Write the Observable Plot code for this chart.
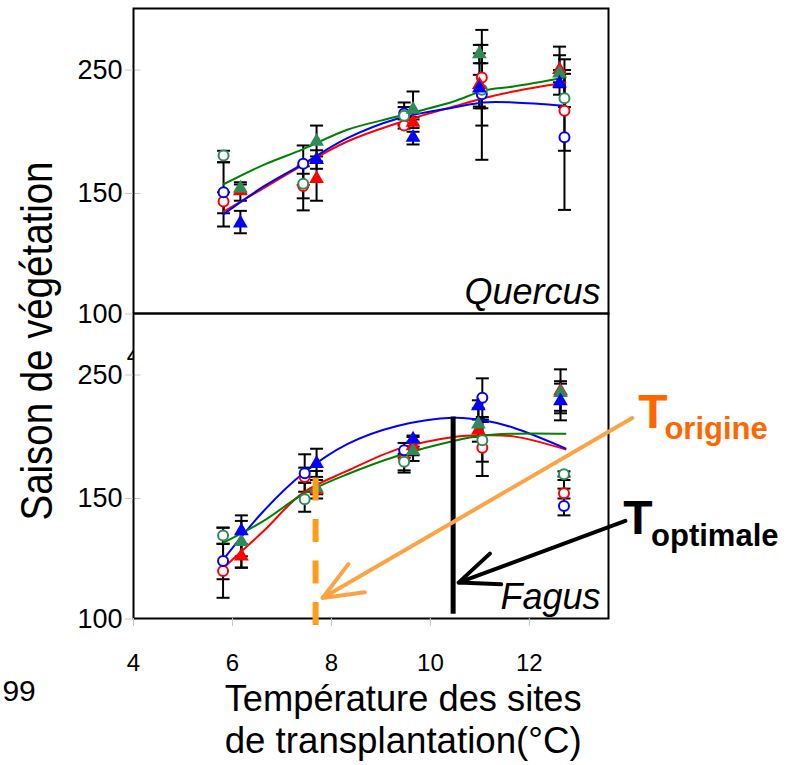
<!DOCTYPE html>
<html>
<head>
<meta charset="utf-8">
<script src="https://cdn.jsdelivr.net/npm/d3@7"></script>
<script src="https://cdn.jsdelivr.net/npm/@observablehq/plot@0.6"></script>
<style>
  html, body { margin: 0; padding: 0; background: white; }
</style>
</head>
<body>
<script>
// ---------- data ----------
const panels = ["Quercus", "Fagus"];
const xTicks = [4, 6, 8, 10, 12];
const yTicks = [100, 150, 250];

// site temperatures (circles / triangles slightly offset)
const qCircX = [5.82, 7.43, 9.47, 11.04, 12.71];
const qTriX  = [6.16, 7.70, 9.65, 10.99, 12.61];
const fCircX = [5.81, 7.46, 9.47, 11.05, 12.70];
const fTriX  = [6.18, 7.70, 9.65, 10.97, 12.63];

// [value, low, high]
const qRedCircle   = [[146.7,136.3,151],[156,148,166],[205,202.6,210],[243.9,219,270.4],[217,184.6,246.9]];
const qBlueCircle  = [[151.1,141.8,175.3],[174,157,188.9],[214.8,205,223.7],[230.4,177.3,282.6],[195.6,143.2,250]];
const qGreenCircle = [[180.8,175.3,184.6],[157.9,143,172],[213,206,220],[234,205,255.5],[227.2,220,258.7]];
const qRedTri      = [[152,147,157.3],[161.9,147,176],[207.5,203,212],[238,220.4,263.6],[250.2,240,269]];
const qBlueTri     = [[137.7,133.5,142.8],[177.3,170,185],[195.3,189.7,200],[235.3,219,246.1],[239.3,230,250]];
const qGreenTri    = [[154.3,150,159.1],[192.1,180,205],[218,210,232.6],[263.1,255.5,270.4],[247.4,236,262]];

const fRedCircle   = [[119.9,108.8,131.2],[167.4,162.8,175],[181.5,171,190],[191.1,168.2,214],[154.2,150,158]];
const fBlueCircle  = [[124.1,116.5,137.9],[170.4,155.5,185.8],[189,183,195],[231.6,216,247.3],[146.9,143,167.8]];
const fGreenCircle = [[134.6,131.2,137.9],[149.7,144.5,162.8],[179.8,172.8,186],[197.1,179.8,212],[169.6,165,172]];
const fRedTri      = [[126.1,121.3,131],[157,150,165],[192.5,185,199.8],[205.2,196,214.1],[237,219,254.6]];
const fBlueTri     = [[136.5,121.3,143],[178.2,167.5,190.3],[197.9,192,201],[224.9,214.1,229.5],[229,213.3,245]];
const fGreenTri    = [[132.1,126,140.7],[158.3,153.4,172.3],[188.5,180.4,196],[210.1,200,223],[235.7,221,243]];

// fitted curves
const lineX      = [5.82, 6.63, 7.43, 8.32, 9.33, 10.47, 11.07, 11.68, 12.73];
const qRedLine   = [142.5, 154.3, 173.2, 192.1, 206.9, 220.4, 227.2, 232.6, 239.9];
const qBlueLine  = [141.4, 155.7, 174.0, 194.8, 210.5, 219.6, 223.7, 223.7, 221.0];
const qGreenLine = [157.5, 173.2, 185.9, 201.6, 212.3, 224.5, 233.2, 236.6, 243.9];
const fRedLine   = [121.3, 136.5, 154.8, 172.3, 189.8, 199.8, 201.2, 200.3, 189.8];
const fBlueLine  = [124.8, 144.8, 170.4, 194.0, 208.7, 215.4, 213.3, 207.3, 190.6];
const fGreenLine = [131.7, 140.7, 153.5, 169.6, 184.4, 196.6, 201.0, 202.5, 202.5];

// annotations (data coordinates, Fagus panel)
const tOptimale = [{panel: "Fagus", x: 10.46, y1: 216, y2: 102}];
const tOrigine  = [{panel: "Fagus", x: 7.68, y1: 166.6, y2: 96.3}];
const orangeArrow = [{panel: "Fagus", x1: 14.08, y1: 215.2, x2: 7.82, y2: 108.7}];
const blackArrow  = [{panel: "Fagus", x1: 13.94, y1: 140.7, x2: 10.57, y2: 115.1}];

// colours
const RED = "#ff0000", BLUE = "#0000ff", GREEN_PT = "#2e8b57", GREEN_LN = "#008000";

// ---------- tables ----------
function pts(panel, xs, triples, color, shape) {
  return triples.map(([v, lo, hi], i) => ({panel, x: xs[i], v, lo, hi, color, shape}));
}
const points = [
  ...pts("Quercus", qCircX, qRedCircle, RED, "c"),
  ...pts("Quercus", qCircX, qBlueCircle, BLUE, "c"),
  ...pts("Quercus", qCircX, qGreenCircle, GREEN_PT, "c"),
  ...pts("Quercus", qTriX, qRedTri, RED, "t"),
  ...pts("Quercus", qTriX, qGreenTri, GREEN_PT, "t"),
  ...pts("Quercus", qTriX, qBlueTri, BLUE, "t"),
  ...pts("Fagus", fCircX, fRedCircle, RED, "c"),
  ...pts("Fagus", fCircX, fBlueCircle, BLUE, "c"),
  ...pts("Fagus", fCircX, fGreenCircle, GREEN_PT, "c"),
  ...pts("Fagus", fTriX, fRedTri, RED, "t"),
  ...pts("Fagus", fTriX, fGreenTri, GREEN_PT, "t"),
  ...pts("Fagus", fTriX, fBlueTri, BLUE, "t")
];
const caps = points.flatMap(d => [{panel: d.panel, x: d.x, y: d.lo}, {panel: d.panel, x: d.x, y: d.hi}]);

function ln(panel, ys, color) {
  return ys.map((y, i) => ({panel, x: lineX[i], y, color, key: panel + color}));
}
const lines = [
  ...ln("Quercus", qRedLine, RED), ...ln("Quercus", qBlueLine, BLUE), ...ln("Quercus", qGreenLine, GREEN_LN),
  ...ln("Fagus", fRedLine, RED), ...ln("Fagus", fBlueLine, BLUE), ...ln("Fagus", fGreenLine, GREEN_LN)
];

const capSymbol = {draw(ctx) { ctx.moveTo(-6.5, 0); ctx.lineTo(6.5, 0); }};

const plot = Plot.plot({
  width: 791,
  height: 765,
  marginLeft: 133,
  marginRight: 183,
  marginTop: 7,
  marginBottom: 147,
  style: {fontFamily: "'Liberation Sans', Arial, sans-serif", background: "white", color: "black"},
  x: {type: "linear", domain: [4, 13.6], label: null},
  y: {type: "linear", domain: [100, 150, 250, 300], range: [312.5, 192, 68.5, 7], label: null},
  fy: {domain: panels, padding: 0, axis: null, label: null},
  color: {type: "identity"},
  marks: [
    // stray "4" from an underlying slide, partly hidden by the Fagus panel
    Plot.text([{panel: "Fagus", x: 4, y: 265.4}], {fy: "panel", x: "x", y: "y", text: () => "4", fontSize: 24, lineAnchor: "middle"}),
    Plot.frame({fill: "white"}),
    Plot.ruleY([150, 250], {x1: 4, x2: 4.15, stroke: "#c8c8c8"}),
    // error bars
    Plot.ruleX(points, {fy: "panel", x: "x", y1: "lo", y2: "hi", stroke: "black", strokeWidth: 2}),
    Plot.dot(caps, {fy: "panel", x: "x", y: "y", symbol: capSymbol, stroke: "black", fill: "none", strokeWidth: 2}),
    // fitted lines
    Plot.line(lines, {fy: "panel", x: "x", y: "y", z: "key", stroke: "color", strokeWidth: 2, curve: "catmull-rom"}),
    // points
    Plot.dot(points.filter(d => d.shape === "c"), {fy: "panel", x: "x", y: "v", r: 5, stroke: "color", fill: "white", strokeWidth: 2}),
    Plot.dot(points.filter(d => d.shape === "t"), {fy: "panel", x: "x", y: "v", r: 5.5, symbol: "triangle", fill: "color", stroke: "none"}),
    // panel border
    Plot.frame({stroke: "black", strokeWidth: 2}),
    // panel names
    Plot.text(panels, {fy: d => d, text: d => d, frameAnchor: "bottom-right", dx: -8, dy: -10, lineAnchor: "bottom", fontStyle: "italic", fontSize: 36}),
    // axes
    Plot.axisY({ticks: yTicks, tickSize: 8, tickPadding: 3, stroke: "#c8c8c8", fill: "black", fontSize: 27, label: null}),
    Plot.axisX({ticks: xTicks, tickSize: 8, tickPadding: 27, stroke: "#c8c8c8", fill: "black", fontSize: 24, label: null}),
    // annotations
    Plot.ruleX(tOptimale, {fy: "panel", x: "x", y1: "y1", y2: "y2", stroke: "black", strokeWidth: 5}),
    Plot.ruleX(tOrigine, {fy: "panel", x: "x", y1: "y1", y2: "y2", stroke: "#ff9c1a", strokeWidth: 6, strokeDasharray: "23,18.5"}),
    Plot.arrow(orangeArrow, {fy: "panel", x1: "x1", y1: "y1", x2: "x2", y2: "y2", stroke: "#fba446", strokeWidth: 4, headLength: 16, headAngle: 45}),
    Plot.arrow(blackArrow, {fy: "panel", x1: "x1", y1: "y1", x2: "x2", y2: "y2", stroke: "black", strokeWidth: 4, headLength: 16, headAngle: 45}),
    Plot.text([{panel: "Fagus", x: 14.20, y: 207.1}], {fy: "panel", x: "x", y: "y", text: () => "T", textAnchor: "start", lineAnchor: "bottom", fontSize: 48, fontWeight: "bold", fill: "#ff6600"}),
    Plot.text([{panel: "Fagus", x: 14.73, y: 198.2}], {fy: "panel", x: "x", y: "y", text: () => "origine", textAnchor: "start", lineAnchor: "bottom", fontSize: 31, fontWeight: "bold", fill: "#ff6600"}),
    Plot.text([{panel: "Fagus", x: 13.90, y: 135.3}], {fy: "panel", x: "x", y: "y", text: () => "T", textAnchor: "start", lineAnchor: "bottom", fontSize: 48, fontWeight: "bold", fill: "black"}),
    Plot.text([{panel: "Fagus", x: 14.46, y: 130.3}], {fy: "panel", x: "x", y: "y", text: () => "optimale", textAnchor: "start", lineAnchor: "bottom", fontSize: 31, fontWeight: "bold", fill: "black"}),
    // axis titles
    Plot.text([{panel: "Quercus", x: 2.36, y: 88.8}], {fy: "panel", x: "x", y: "y", text: () => "Saison de végétation", rotate: -90, textAnchor: "middle", lineAnchor: "bottom", fontSize: 45}),
    Plot.text([{panel: "Fagus", x: 9.45, y: 61.8}], {fy: "panel", x: "x", y: "y", text: () => "Température des sites", textAnchor: "middle", lineAnchor: "bottom", fontSize: 36}),
    Plot.text([{panel: "Fagus", x: 9.45, y: 44.4}], {fy: "panel", x: "x", y: "y", text: () => "de transplantation(°C)", textAnchor: "middle", lineAnchor: "bottom", fontSize: 36}),
    Plot.text([{panel: "Fagus", x: 1.35, y: 66}], {fy: "panel", x: "x", y: "y", text: () => "99", textAnchor: "start", lineAnchor: "bottom", fontSize: 30})
  ]
});

// stretch/condense titles to the reference lengths
const fit = {"Saison de végétation": 359, "Température des sites": 357, "de transplantation(°C)": 357};
d3.select(plot).selectAll("text").each(function () {
  const t = this.textContent;
  if (fit[t]) d3.select(this).attr("textLength", fit[t]).attr("lengthAdjust", "spacingAndGlyphs");
});
document.body.appendChild(plot);
</script>
</body>
</html>
